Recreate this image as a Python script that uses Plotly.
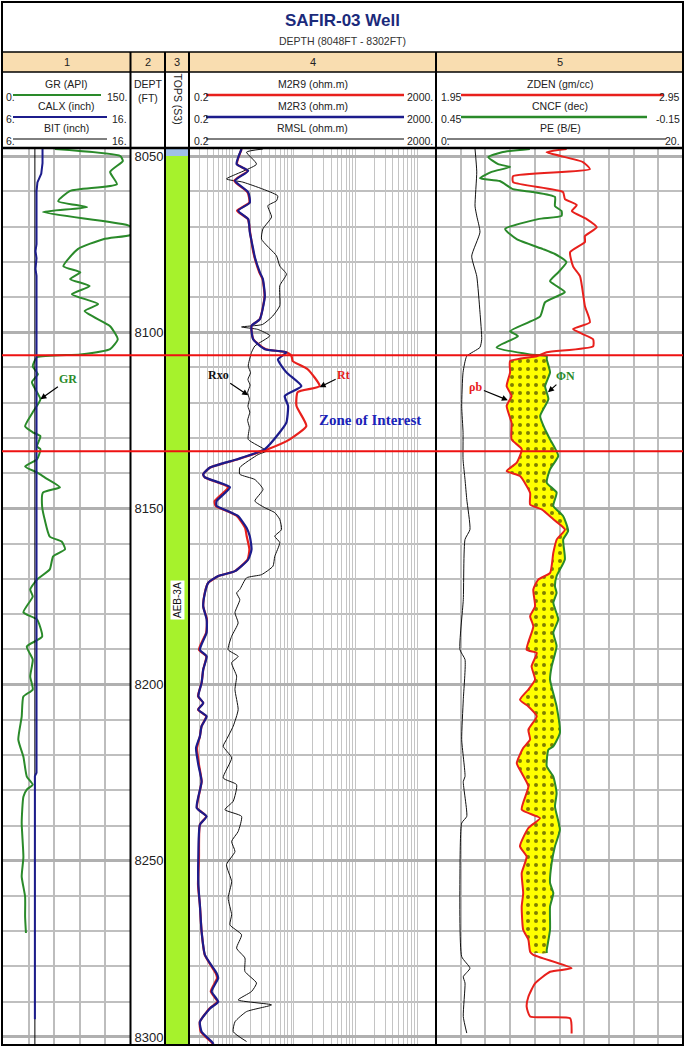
import math
import plotly.graph_objects as go

W, H = 685, 1049

# ---------------- data (depth ft, value) ----------------
DEPTH_RANGE = [8048, 8302]
ZONE_TOP, ZONE_BASE = 8106.5, 8133.8
FILL_TOP, FILL_BASE = 8106.5, 8276.5

GR = [(8048, 61), (8050, 138), (8051.4, 141), (8054.5, 126), (8058.0, 134), (8059.9, 79),
      (8062.8, 65), (8064.5, 99), (8065.9, 47), (8069.5, 145), (8071.0, 157), (8072.4, 150),
      (8073.6, 118), (8076.4, 88), (8081.3, 71), (8083.0, 91), (8084.9, 79), (8086.9, 102),
      (8089.2, 81), (8092.0, 112), (8094.0, 96), (8098.3, 126), (8102.0, 135), (8104.8, 126),
      (8106.3, 91), (8107.1, 40), (8109.7, 35), (8111.9, 41), (8114.2, 34), (8119.0, 44),
      (8122.7, 35), (8126.7, 26), (8128.4, 35), (8129.5, 44), (8132.4, 40), (8133.2, 44),
      (8136.1, 40), (8138.1, 26), (8139.8, 40), (8141.2, 49), (8144.0, 67), (8145.5, 47),
      (8149.4, 46), (8153.1, 49), (8158.0, 55), (8159.4, 69), (8161.6, 73), (8163.6, 59),
      (8167.3, 55), (8170.2, 40), (8173.0, 32), (8175.0, 35), (8179.5, 24), (8181.5, 40),
      (8186.4, 46), (8189.2, 28), (8192.9, 35), (8197.7, 32), (8201.4, 35), (8203.4, 24),
      (8209.1, 22), (8215.6, 18), (8220.5, 24), (8226.1, 28), (8228.4, 35), (8229.8, 28),
      (8231.8, 24), (8239.2, 22), (8248.9, 24), (8254.5, 22), (8260.2, 26), (8265.9, 26),
      (8270.5, 27)]

CALX = [(8048, 9.1), (8052, 9.1), (8055, 9.0), (8057.5, 8.7), (8060, 8.63), (8075, 8.63),
        (8077, 8.55), (8079, 8.63), (8082, 8.55), (8084, 8.63), (8225, 8.63), (8226, 8.5),
        (8295, 8.5)]
BIT = [(8048, 8.5), (8302, 8.5)]

M2R3 = [(8048, 1.42), (8052.3, 1.18), (8054.2, 1.82), (8057.0, 1.11), (8060.3, 1.82),
        (8063.2, 1.93), (8065.5, 1.25), (8067.9, 1.82), (8071.6, 1.93), (8076.4, 2.19),
        (8078.7, 2.33), (8083.0, 2.81), (8084.9, 3.14), (8089.8, 3.38), (8096.3, 2.81),
        (8098.2, 2.06), (8102.0, 2.19), (8104.8, 3.38), (8105.7, 7.57), (8107.7, 5.52),
        (8111.4, 7.57), (8115.3, 13.2), (8118.1, 7.11), (8120.9, 8.04), (8125.6, 7.57),
        (8128.4, 5.9), (8133.2, 3.38), (8136.1, 1.18), (8138.4, 0.437), (8140.3, 0.34),
        (8141.2, 0.362), (8144.0, 0.92), (8147.9, 0.56), (8149.3, 0.56), (8150.8, 0.86),
        (8152.2, 1.25), (8155.5, 1.71), (8157.9, 1.93), (8161.6, 2.06), (8164.5, 1.82),
        (8167.8, 1.11), (8169.2, 0.594), (8171.1, 0.41), (8174.0, 0.362), (8177.8, 0.34),
        (8181.5, 0.386), (8185.2, 0.386), (8190.1, 0.30), (8192.0, 0.386), (8195.7, 0.34),
        (8199.5, 0.32), (8203.3, 0.283), (8205.2, 0.34), (8207.1, 0.283), (8209.0, 0.386),
        (8211.8, 0.32), (8214.7, 0.30), (8218.0, 0.26), (8222.7, 0.283), (8227.5, 0.32),
        (8235.0, 0.266), (8237.4, 0.386), (8239.8, 0.30), (8249.2, 0.283), (8256.8, 0.283),
        (8262.5, 0.30), (8270.1, 0.32), (8276.7, 0.362), (8281.9, 0.56), (8283.3, 0.594),
        (8287.1, 0.465), (8290.0, 0.594), (8291.9, 0.437), (8295.7, 0.30), (8298.5, 0.32),
        (8301.3, 0.465), (8302, 0.5)]

M2R9 = [(8048, 1.42), (8052.3, 1.2), (8054.2, 1.78), (8057.0, 1.08), (8060.3, 1.78),
        (8063.2, 1.9), (8065.5, 1.2), (8067.9, 1.8), (8071.6, 1.95), (8076.4, 2.15),
        (8078.7, 2.3), (8083.0, 2.75), (8084.9, 3.1), (8089.8, 3.35), (8096.3, 2.8),
        (8098.2, 2.06), (8102.0, 2.2), (8104.8, 3.5), (8105.7, 7.57), (8106.7, 9.12),
        (8108.2, 9.57), (8110.5, 16.7), (8115.3, 26.1), (8117.0, 11.5), (8120.9, 11.0),
        (8126.6, 15.9), (8130.4, 8.57), (8133.2, 3.78), (8136.1, 1.2), (8138.4, 0.44),
        (8140.3, 0.34), (8141.2, 0.36), (8144.0, 0.86), (8147.9, 0.52), (8149.3, 0.54),
        (8150.8, 0.84), (8152.2, 1.2), (8155.5, 1.62), (8157.9, 1.72), (8161.6, 1.9),
        (8164.5, 1.78), (8167.8, 1.1), (8169.2, 0.6), (8171.1, 0.41), (8174.0, 0.36),
        (8177.8, 0.34), (8181.5, 0.39), (8185.2, 0.38), (8190.1, 0.29), (8192.0, 0.38),
        (8195.7, 0.34), (8199.5, 0.32), (8203.3, 0.28), (8205.2, 0.34), (8207.1, 0.28),
        (8209.0, 0.38), (8211.8, 0.32), (8214.7, 0.30), (8218.0, 0.27), (8222.7, 0.29),
        (8227.5, 0.32), (8235.0, 0.27), (8237.4, 0.38), (8239.8, 0.30), (8249.2, 0.29),
        (8256.8, 0.28), (8262.5, 0.30), (8270.1, 0.32), (8276.7, 0.36), (8281.9, 0.54),
        (8283.3, 0.57), (8287.1, 0.45), (8290.0, 0.58), (8291.9, 0.43), (8295.7, 0.30),
        (8298.5, 0.31), (8301.3, 0.45), (8302, 0.49)]

RMSL = [(8048, 3.14), (8048.9, 1.71), (8052.3, 2.48), (8056.5, 0.81), (8057.4, 1.49),
        (8061.3, 5.48), (8062.7, 5.22), (8064.1, 3.78), (8067.3, 4.34), (8070.7, 3.14),
        (8073.6, 2.99), (8078.3, 5.22), (8081.2, 5.9), (8083.5, 7.57), (8086.8, 5.9),
        (8092.5, 5.9), (8095.4, 4.55), (8097.8, 3.1), (8098.5, 1.42), (8099.2, 2.6),
        (8101.0, 4.07), (8103.9, 2.33), (8105.7, 2.06), (8109.6, 1.82), (8111.5, 1.98),
        (8113.4, 1.8), (8115.0, 1.95), (8117.1, 1.78), (8119.0, 1.9), (8121.0, 1.8),
        (8122.7, 1.93), (8125.0, 1.78), (8127.0, 1.9), (8130.4, 1.82), (8133.7, 3.6),
        (8134.7, 2.64), (8138.4, 1.33), (8140.3, 1.33), (8141.8, 2.33), (8144.6, 3.16),
        (8147.9, 2.33), (8149.8, 3.38), (8151.2, 4.9), (8153.1, 5.9), (8156.0, 6.3),
        (8157.9, 4.9), (8159.7, 5.9), (8163.6, 4.9), (8166.4, 4.58), (8168.8, 2.99),
        (8169.7, 1.71), (8173.0, 1.33), (8174.0, 1.18), (8175.9, 1.33), (8179.6, 1.11),
        (8182.5, 1.25), (8186.3, 0.98), (8190.1, 0.86), (8192.0, 1.25), (8193.8, 0.98),
        (8197.6, 1.18), (8201.4, 1.11), (8207.1, 1.25), (8211.8, 1.04), (8215.6, 0.81),
        (8217.5, 0.716), (8220.8, 0.98), (8226.5, 0.716), (8228.4, 1.18), (8233.1, 1.04),
        (8235.5, 0.763), (8237.4, 1.42), (8241.7, 1.25), (8244.5, 0.98), (8247.4, 1.11),
        (8251.1, 0.81), (8255.9, 0.98), (8260.6, 0.86), (8265.3, 0.98), (8268.2, 0.92),
        (8271.0, 1.42), (8274.8, 1.18), (8277.6, 1.61), (8281.4, 1.61), (8284.7, 2.48),
        (8287.1, 2.06), (8289.5, 1.25), (8290.9, 4.34), (8292.8, 1.71), (8295.7, 1.11),
        (8298.5, 1.04), (8301.3, 1.71)]

ZDEN = [(8048, 2.479), (8048.9, 2.398), (8051.7, 2.545), (8053.7, 2.573), (8055.7, 2.262),
        (8057.4, 2.262), (8060.2, 2.464), (8062.2, 2.472), (8063.9, 2.520), (8065.6, 2.50),
        (8067.9, 2.560), (8070.2, 2.601), (8072.7, 2.553), (8074.4, 2.553), (8077.3, 2.493),
        (8081.3, 2.505), (8084.1, 2.533), (8092.6, 2.553), (8097.2, 2.573), (8099.1, 2.505),
        (8102.0, 2.586), (8104.0, 2.586), (8105.7, 2.398), (8106.8, 2.358), (8108.2, 2.250),
        (8111.4, 2.250), (8115.3, 2.236), (8118.1, 2.256), (8120.9, 2.236), (8125.7, 2.256),
        (8130.4, 2.256), (8133.2, 2.297), (8137.0, 2.277), (8139.4, 2.236), (8140.8, 2.290),
        (8145.6, 2.331), (8148.9, 2.331), (8150.3, 2.378), (8153.1, 2.425), (8156.0, 2.472),
        (8158.8, 2.439), (8162.6, 2.425), (8168.3, 2.412), (8170.2, 2.364), (8173.0, 2.344),
        (8177.8, 2.351), (8180.6, 2.331), (8183.5, 2.344), (8190.1, 2.317), (8191.0, 2.358),
        (8194.8, 2.337), (8198.6, 2.351), (8201.4, 2.324), (8204.3, 2.290), (8206.2, 2.324),
        (8209.0, 2.358), (8212.8, 2.324), (8215.6, 2.331), (8218.0, 2.303), (8222.3, 2.277),
        (8225.1, 2.297), (8228.9, 2.324), (8235.5, 2.297), (8237.9, 2.371), (8240.7, 2.324),
        (8245.9, 2.290), (8248.8, 2.317), (8253.5, 2.297), (8259.2, 2.303), (8263.0, 2.297),
        (8269.6, 2.303), (8272.4, 2.324), (8275.8, 2.331), (8276.7, 2.344), (8280.5, 2.499),
        (8281.5, 2.412), (8284.8, 2.351), (8288.6, 2.324), (8291.4, 2.317), (8294.2, 2.331),
        (8294.7, 2.493), (8299.0, 2.499)]

CNCF = [(8048, 0.222), (8048.9, 0.290), (8050.3, 0.323), (8052.3, 0.299), (8053.1, 0.270),
        (8054.5, 0.315), (8056.3, 0.343), (8057.1, 0.295), (8059.4, 0.263), (8060.2, 0.214),
        (8061.6, 0.161), (8064.2, 0.161), (8065.6, 0.145), (8067.0, 0.145), (8067.9, 0.202),
        (8070.7, 0.282), (8073.6, 0.254), (8076.4, 0.190), (8077.8, 0.161), (8080.1, 0.133),
        (8083.0, 0.153), (8085.5, 0.173), (8086.9, 0.157), (8088.6, 0.137), (8091.5, 0.185),
        (8095.5, 0.197), (8099.7, 0.270), (8101.1, 0.251), (8104.3, 0.303), (8106.3, 0.222),
        (8106.8, 0.181), (8107.7, 0.181), (8111.4, 0.173), (8115.3, 0.185), (8119.0, 0.177),
        (8123.8, 0.197), (8127.6, 0.185), (8130.4, 0.173), (8135.1, 0.153), (8138.9, 0.173),
        (8142.7, 0.181), (8145.5, 0.157), (8149.3, 0.165), (8152.2, 0.141), (8156.4, 0.129),
        (8158.8, 0.141), (8164.5, 0.137), (8169.2, 0.157), (8172.1, 0.161), (8174.0, 0.157),
        (8176.8, 0.165), (8181.5, 0.153), (8185.3, 0.165), (8189.1, 0.157), (8194.8, 0.169),
        (8198.6, 0.173), (8206.2, 0.157), (8213.7, 0.149), (8217.5, 0.165), (8218.5, 0.177),
        (8223.2, 0.181), (8226.1, 0.165), (8230.8, 0.157), (8234.6, 0.161), (8241.2, 0.149),
        (8245.9, 0.161), (8250.6, 0.169), (8256.3, 0.173), (8259.2, 0.165), (8263.0, 0.173),
        (8269.6, 0.173), (8275.3, 0.181), (8276.2, 0.181)]

PE = [(8048, 3.16), (8054.5, 3.3), (8064.2, 3.16), (8067.0, 3.3), (8071.6, 3.56),
      (8078.4, 2.89), (8084.1, 3.3), (8094.3, 3.56), (8102.0, 3.7), (8104.3, 3.56),
      (8106.8, 2.49), (8111.4, 2.19), (8121.0, 2.08), (8128.4, 2.19), (8136.1, 2.19),
      (8141.8, 2.35), (8147.4, 2.49), (8156.0, 2.75), (8158.8, 2.35), (8175.9, 2.21),
      (8190.1, 1.94), (8192.9, 2.35), (8204.3, 2.21), (8215.6, 2.08), (8226.1, 2.35),
      (8227.5, 2.21), (8237.4, 2.49), (8239.3, 2.08), (8253.5, 1.94), (8277.2, 2.08),
      (8280.5, 2.75), (8282.9, 2.21), (8284.7, 2.35), (8294.2, 2.21), (8298.9, 2.49)]

TOP_NAMES = ["", "AEB-3A"]
TOP_DEPTHS = [8048, 8050, 8302]

GR_RANGE = [0, 150]
CALX_RANGE = [6, 16]
RES_RANGE = [0.2, 2000]
ZDEN_RANGE = [1.95, 2.95]
CNCF_RANGE = [0.45, -0.15]
PE_RANGE = [0, 20]

# ---------------- styling ----------------
GREEN = "#2a8a2a"
BLUE = "#1c1c8c"
RED = "#e8201c"
GRID = "#bdbdbd"
FONT = "Liberation Sans"
SERIF = "Liberation Serif"
TOP_COLORS = ["#9fc0e8", "#a6f22c"]


def P(px):
    return px / W


def Q(py):
    return 1 - py / H


def split(pairs):
    return [p[1] for p in pairs], [p[0] for p in pairs]


fig = go.Figure()


def line_trace(pairs, xa, color, width, smooth=True):
    xs, ys = split(pairs)
    ln = dict(color=color, width=width)
    if smooth:
        ln.update(shape="spline", smoothing=0.5)
    fig.add_trace(go.Scatter(x=xs, y=ys, xaxis=xa, yaxis="y", mode="lines",
                             line=ln, hoverinfo="skip"))


# Track 1
line_trace(GR, "x", GREEN, 2)
line_trace(BIT, "x6", "#000000", 1, smooth=False)
line_trace(CALX, "x6", BLUE, 2, smooth=False)

# Track 3 (tops) as bars
for i, name in enumerate(TOP_NAMES):
    fig.add_trace(go.Bar(x=[0.5], y=[TOP_DEPTHS[i + 1] - TOP_DEPTHS[i]], base=[TOP_DEPTHS[i]],
                         width=[1], xaxis="x3", yaxis="y2",
                         marker=dict(color=TOP_COLORS[i], line=dict(width=0)),
                         hoverinfo="skip"))

# Track 4
line_trace(RMSL, "x4", "#111111", 1)
line_trace(M2R9, "x4", RED, 2.2)
line_trace(M2R3, "x4", BLUE, 2.2)

# Track 5: crossover fill (neutron scaled onto density scale)
zr = [(d, v) for d, v in ZDEN if FILL_TOP <= d <= FILL_BASE]
cn = [(d, ZDEN_RANGE[0] + (CNCF_RANGE[0] - v) / (CNCF_RANGE[0] - CNCF_RANGE[1])
       * (ZDEN_RANGE[1] - ZDEN_RANGE[0])) for d, v in CNCF if FILL_TOP <= d <= FILL_BASE]
poly = zr + cn[::-1]
fig.add_trace(go.Scatter(x=[p[1] for p in poly], y=[p[0] for p in poly], xaxis="x5", yaxis="y",
                         mode="lines", fill="toself",
                         line=dict(width=0, shape="spline", smoothing=0.5),
                         fillcolor="#ffff00",
                         fillpattern=dict(shape=".", bgcolor="#ffff00", fgcolor="#000000",
                                          size=8, solidity=0.2),
                         hoverinfo="skip"))
line_trace(ZDEN, "x5", RED, 2)
line_trace(CNCF, "x7", GREEN, 2)
line_trace(PE, "x8", "#111111", 1)

ydom = [Q(1044), Q(149)]
noax = dict(showticklabels=False, ticks="", zeroline=False, showline=False)

fig.update_layout(
    width=W, height=H, margin=dict(l=0, r=0, t=0, b=0),
    paper_bgcolor="white", plot_bgcolor="white", showlegend=False, barmode="overlay",
    xaxis=dict(domain=[P(3), P(130.5)], range=GR_RANGE, anchor="y", showgrid=True,
               tick0=0, dtick=30, gridcolor=GRID, gridwidth=1.5, **noax),
    xaxis6=dict(overlaying="x", range=CALX_RANGE, anchor="y", visible=False),
    xaxis3=dict(domain=[P(165), P(189)], range=[0, 1], anchor="y2", visible=False),
    xaxis4=dict(domain=[P(189), P(436)], type="log",
                range=[math.log10(RES_RANGE[0]), math.log10(RES_RANGE[1])], anchor="y",
                showgrid=True, dtick="D1", gridcolor="#c4c4c4", gridwidth=1, **noax),
    xaxis5=dict(domain=[P(436), P(683)], range=ZDEN_RANGE, anchor="y", showgrid=True,
                tick0=ZDEN_RANGE[0], dtick=0.1, gridcolor=GRID, gridwidth=1.5, **noax),
    xaxis7=dict(overlaying="x5", range=CNCF_RANGE, anchor="y", visible=False),
    xaxis8=dict(overlaying="x5", range=PE_RANGE, anchor="y", visible=False),
    yaxis=dict(domain=ydom, range=[DEPTH_RANGE[1], DEPTH_RANGE[0]], anchor="x", side="right",
               tick0=8050, dtick=50, showgrid=True, gridcolor="#b0b0b0", gridwidth=2.5,
               minor=dict(tick0=8050, dtick=10, showgrid=True, gridcolor="#bfbfbf",
                          gridwidth=1.5),
               ticks="", ticklabelstandoff=3, zeroline=False, showline=False,
               tickfont=dict(family=FONT, size=13, color="#222222")),
    yaxis2=dict(domain=ydom, range=[DEPTH_RANGE[1], DEPTH_RANGE[0]], anchor="x3",
                matches="y", visible=False),
)

shapes = []
# number row background
shapes.append(dict(type="rect", xref="paper", yref="paper", x0=P(2), x1=P(683), y0=Q(72),
                   y1=Q(52), fillcolor="#f9ddb0", line=dict(width=0), layer="below"))
# header row lines
for py, w in [(52, 1.5), (72, 1.5), (148, 2.5)]:
    shapes.append(dict(type="line", xref="paper", yref="paper", x0=P(2), x1=P(683),
                       y0=Q(py), y1=Q(py), line=dict(color="black", width=w)))
# track separators
for px in [130.5, 165, 189, 436]:
    shapes.append(dict(type="line", xref="paper", yref="paper", x0=P(px), x1=P(px),
                       y0=Q(1045), y1=Q(52), line=dict(color="black", width=2)))
# outer frame
shapes.append(dict(type="rect", xref="paper", yref="paper", x0=P(2), x1=P(683), y0=Q(1045),
                   y1=Q(2), line=dict(color="black", width=2)))
# zone of interest
for dz in [ZONE_TOP, ZONE_BASE]:
    shapes.append(dict(type="line", xref="paper", yref="y", x0=P(2), x1=P(683), y0=dz, y1=dz,
                       line=dict(color="#ee1111", width=2)))

ann = []


def txt(x, y, s, size=10.5, color="#222222", xanchor="center", family=FONT, bold=False,
        angle=0):
    if bold:
        s = "<b>" + s + "</b>"
    ann.append(dict(xref="paper", yref="paper", x=P(x), y=Q(y), text=s, showarrow=False,
                    xanchor=xanchor, yanchor="middle", textangle=angle,
                    font=dict(family=family, size=size, color=color)))


txt(342.5, 21, "SAFIR-03 Well", size=17, color="#1b2a7b", bold=True)
txt(342.5, 41, "DEPTH (8048FT - 8302FT)", size=10.5, color="#333333")
for label, cx in [("1", 66.5), ("2", 148), ("3", 177), ("4", 312.5), ("5", 559.5)]:
    txt(cx, 62, label, size=11)

# header curve legends
headers = [
    # (name, rng, color, width, text_cx, left, line_x0, line_x1, right, row)
    ("GR (API)", GR_RANGE, GREEN, 2, 66.5, 4, 13, 101, 129, 0),
    ("CALX (inch)", CALX_RANGE, BLUE, 2, 66.5, 4, 13, 107, 129, 1),
    ("BIT (inch)", CALX_RANGE, "#000000", 1, 66.5, 4, 13, 107, 129, 2),
    ("M2R9 (ohm.m)", RES_RANGE, RED, 2.5, 312.5, 192, 206, 404, 435, 0),
    ("M2R3 (ohm.m)", RES_RANGE, BLUE, 2.5, 312.5, 192, 206, 404, 435, 1),
    ("RMSL (ohm.m)", RES_RANGE, "#000000", 1, 312.5, 192, 206, 404, 435, 2),
    ("ZDEN (gm/cc)", ZDEN_RANGE, RED, 2.5, 560, 439, 461, 664, 682, 0),
    ("CNCF (dec)", CNCF_RANGE, GREEN, 2.5, 560, 439, 461, 647, 682, 1),
    ("PE (B/E)", PE_RANGE, "#000000", 1, 560, 439, 447, 666, 682, 2),
]
for name, rng, col, w, cx, lx, x0, x1, rx, row in headers:
    yn = 84 + 22 * row
    yl = 95 + 22 * row
    txt(cx, yn, name)
    lo = rng[0]
    hi = rng[1]
    lt = ("%g" % lo) if not float(lo).is_integer() else "%d." % lo
    rt = ("%g" % hi) if not float(hi).is_integer() else "%d." % hi
    if name.startswith("ZDEN") or name.startswith("CNCF"):
        lt = "%.2f" % lo
        rt = "%.2f" % hi
    txt(lx, yl + 1.5, lt, xanchor="left")
    txt(rx, yl + 1.5, rt, xanchor="right")
    shapes.append(dict(type="line", xref="paper", yref="paper", x0=P(x0), x1=P(x1),
                       y0=Q(yl), y1=Q(yl), line=dict(color=col, width=w)))

txt(148, 84, "DEPT")
txt(148, 98, "(FT)")
txt(177.5, 99, "TOPS (S3)", angle=90)

# tops name
for i, name in enumerate(TOP_NAMES):
    if name:
        ann.append(dict(xref="x3", yref="y2", x=0.5,
                        y=(TOP_DEPTHS[i] + TOP_DEPTHS[i + 1]) / 2, text=name,
                        showarrow=False, textangle=-90, bgcolor="white", borderpad=1,
                        font=dict(family=FONT, size=10, color="#111111")))


# curve callouts
def callout(xref, x, y, s, color, ax, ay, size=12):
    ann.append(dict(xref=xref, yref="y", x=x, y=y, text="<b>" + s + "</b>", showarrow=True,
                    ax=ax, ay=ay, arrowhead=2, arrowsize=1, arrowwidth=1.2,
                    arrowcolor="black", standoff=0,
                    font=dict(family=SERIF, size=size, color=color)))


callout("x", 44, 8119.0, "GR", GREEN, 28, -20)
callout("x4", math.log10(1.82), 8117.9, "Rxo", "#111111", -30, -20)
callout("x4", math.log10(26.1), 8115.6, "Rt", RED, 24, -12)
callout("x5", 2.241, 8119.3, "ρb", RED, -32, -13)
callout("x7", 0.178, 8117.0, "ΦN", GREEN, 18, -16)

ann.append(dict(xref="x4", yref="y", x=math.log10(168), y=8125, text="<b>Zone of Interest</b>",
                showarrow=False, font=dict(family=SERIF, size=15, color="#1a22b8")))

fig.update_layout(shapes=shapes, annotations=ann)

fig.write_html("out.html", config={"displayModeBar": False},
               post_script="document.body.style.margin='0px';")
